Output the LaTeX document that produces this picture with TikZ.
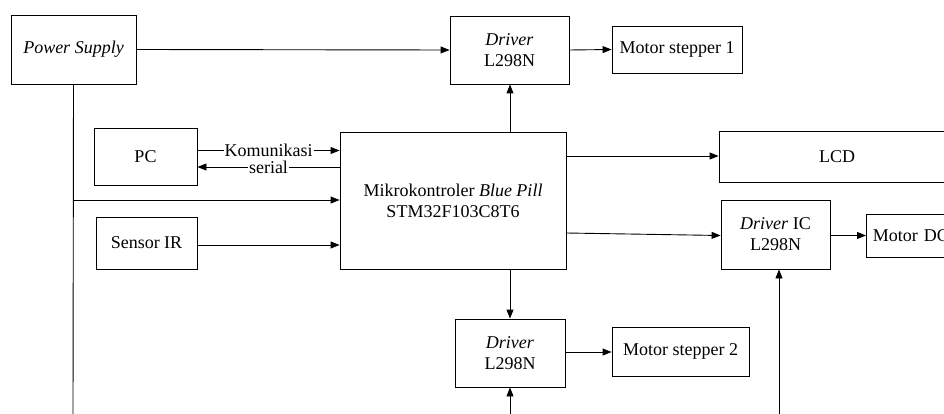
\documentclass[tikz,border=0pt]{standalone}
\usepackage{fontspec}
\setmainfont{Liberation Serif}
\usetikzlibrary{arrows.meta}
\begin{document}
\begin{tikzpicture}[x=1pt,y=-1pt,
  blk/.style={draw,line width=0.9pt,align=center,inner sep=0pt,font=\fontsize{18}{21}\selectfont},
  conn/.style={line width=0.9pt},
  arr/.style={conn,-{Triangle[length=9pt,width=7pt]}},
  lbl/.style={fill=white,inner sep=1pt,font=\fontsize{18}{21}\selectfont}]
\useasboundingbox (0,0) rectangle (944,414);
\clip (0,0) rectangle (944,414);
\node[blk,minimum width=125pt,minimum height=69pt] (ps) at (73.5,49.5) {\textit{Power Supply}};
\node[blk,minimum width=119pt,minimum height=68pt] (d1) at (509.5,50) {\textit{Driver}\\L298N};
\node[blk,minimum width=130pt,minimum height=47pt] (ms1) at (677,49.5) {Motor stepper 1};
\node[blk,minimum width=226pt,minimum height=137pt] (mcu) at (453,200.5) {Mikrokontroler \textit{Blue Pill}\\STM32F103C8T6};
\node[blk,minimum width=103pt,minimum height=57pt] (pc) at (145.5,156.5) {PC};
\node[blk,minimum width=101pt,minimum height=52pt] (ir) at (146.5,243) {Sensor IR};
\node[blk,minimum width=236pt,minimum height=51pt] (lcd) at (837,156.5) {LCD};
\node[blk,minimum width=109pt,minimum height=69pt] (dic) at (775.5,234.5) {\textit{Driver} IC\\L298N};
\node[blk,minimum width=89pt,minimum height=43pt,anchor=west,text width=86pt,align=left] (mdc) at (866,235.5) {\hspace*{5pt}Motor DC};
\node[blk,minimum width=110pt,minimum height=68pt] (d2) at (510,353) {\textit{Driver}\\L298N};
\node[blk,minimum width=137pt,minimum height=49pt] (ms2) at (680.5,351.5) {Motor stepper 2};
\coordinate (psb) at (73,414);
\coordinate (b2) at (510,414);
\coordinate (bic) at (779,414);
% power supply
\draw[conn] (ps.south) -- (psb);
\draw[arr] (ps.east) -- (d1.west);
\draw[arr] (ps.south |- 0,200) -- (mcu.west |- 0,200);
\draw[arr] (b2) -- (d2.south);
\draw[arr] (bic) -- (dic.south -| bic);
% driver 1
\draw[arr] (mcu.north -| 510,0) -- (d1.south -| 510,0);
\draw[arr] (d1.east) -- (ms1.west);
% PC
\draw[arr] (pc.east |- 0,150.5) -- node[lbl]{Komunikasi} (mcu.west |- 0,150.5);
\draw[arr] (mcu.west |- 0,167) -- node[lbl]{serial} (pc.east |- 0,167);
% sensor
\draw[arr] (ir.east |- 0,245) -- (mcu.west |- 0,245);
% right
\draw[arr] (mcu.east |- 0,156) -- (lcd.west |- 0,156);
\draw[arr] (mcu.east |- 0,233) -- (dic.west |- 0,235.5);
\draw[arr] (dic.east |- 0,235.5) -- (mdc.west);
% driver 2
\draw[arr] (mcu.south -| 510,0) -- (d2.north);
\draw[arr] (d2.east |- 0,352) -- (ms2.west |- 0,352);
\end{tikzpicture}
\end{document}
